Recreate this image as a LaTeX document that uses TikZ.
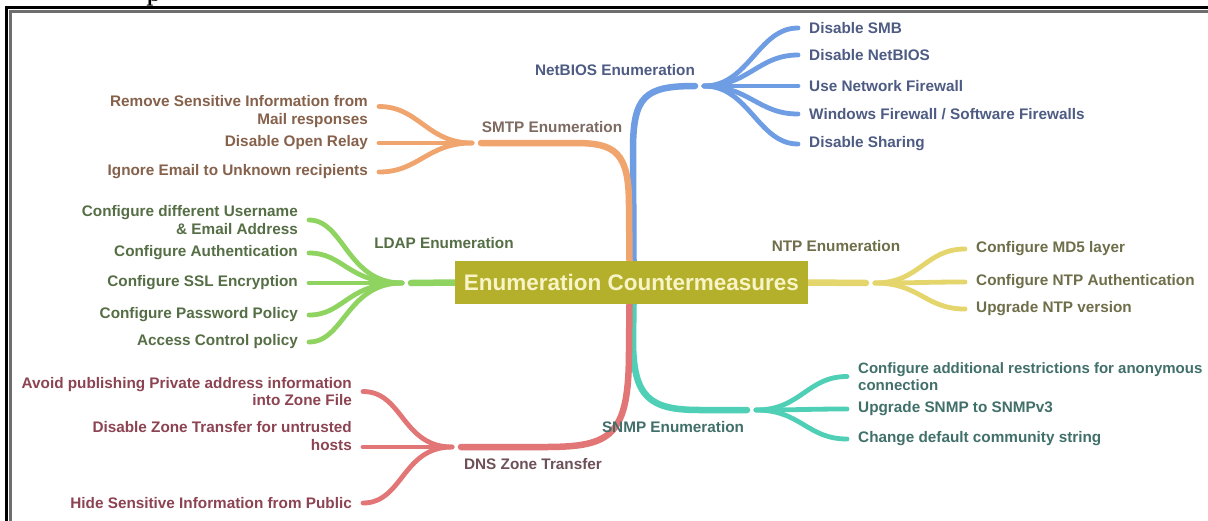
\documentclass[tikz,border=0pt]{standalone}
\usepackage{fontspec}
\newfontfamily\lsans{Liberation Sans}
\usetikzlibrary{backgrounds}
\definecolor{cOr}{HTML}{F0A46E}
\definecolor{tOr}{HTML}{86614B}
\definecolor{lOr}{HTML}{7D6B62}
\definecolor{cBl}{HTML}{6E9DE3}
\definecolor{tBl}{HTML}{4E5C84}
\definecolor{cGr}{HTML}{8FD361}
\definecolor{tGr}{HTML}{556E45}
\definecolor{cYe}{HTML}{E4D56C}
\definecolor{tYe}{HTML}{6F6E4A}
\definecolor{cTe}{HTML}{4FD0B6}
\definecolor{tTe}{HTML}{416F6A}
\definecolor{cRe}{HTML}{E27575}
\definecolor{tRe}{HTML}{8C4352}
\definecolor{lRe}{HTML}{6E5058}
\definecolor{ctrF}{HTML}{B4B02B}
\definecolor{ctrT}{HTML}{F8F4C8}
\definecolor{frameG}{HTML}{6E6E6E}
\begin{document}
\begin{tikzpicture}[x=1pt,y=-1pt,
  lab/.style={font=\lsans\bfseries\fontsize{15.3}{17.5}\selectfont, inner sep=0pt},
  leafL/.style={lab, anchor=east, align=right, inner xsep=11pt, inner ysep=0pt},
  leafR/.style={lab, anchor=west, align=left, inner xsep=11pt, inner ysep=0pt},
  trunk/.style={line width=6.5pt, line cap=round},
  twig/.style={line width=4.8pt, line cap=round}]
\useasboundingbox (0,0) rectangle (1208,520);
\begin{scope}[on background layer]
\fill[white] (0,0) rectangle (1208,520);
\end{scope}
% frame
\draw[line width=3pt, black] (6.5,7.5) rectangle (1230,540);
\draw[line width=3pt, frameG] (10.5,11.5) rectangle (1230,540);
% cut title glyph
\node[font=\bfseries\fontsize{24}{24}\selectfont, anchor=base west, inner sep=0pt] (ptitle) at (146,1) {p};

% central node
\node[fill=ctrF, text=ctrT, minimum width=353pt, minimum height=43pt, inner sep=0pt,
      font=\lsans\bfseries\fontsize{22.5}{22.5}\selectfont] (ctr) at (631.5,282.5) {Enumeration Countermeasures};

% junction coordinates
\coordinate (jN) at (695,86);   \coordinate (jN2) at (704,86);
\coordinate (jS) at (481,143);  \coordinate (jS2) at (472,143);
\coordinate (jL) at (411,283);  \coordinate (jL2) at (402,283);
\coordinate (jT) at (866,283);  \coordinate (jT2) at (875,283);
\coordinate (jP) at (747,410);  \coordinate (jP2) at (756,410);
\coordinate (jD) at (461,447);  \coordinate (jD2) at (452,447);

% branch labels
\node[lab, text=tBl] (lN) at (615,70) {NetBIOS Enumeration};
\node[lab, text=lOr] (lS) at (552,127) {SMTP Enumeration};
\node[lab, text=tGr] (lL) at (444,243) {LDAP Enumeration};
\node[lab, text=tYe] (lT) at (836,246) {NTP Enumeration};
\node[lab, text=tTe] (lP) at (673,427) {SNMP Enumeration};
\node[lab, text=lRe] (lD) at (533,464) {DNS Zone Transfer};

% leaves: NetBIOS
\node[leafR, text=tBl] (b1) at (798,28) {Disable SMB};
\node[leafR, text=tBl] (b2) at (798,55) {Disable NetBIOS};
\node[leafR, text=tBl] (b3) at (798,86) {Use Network Firewall};
\node[leafR, text=tBl] (b4) at (798,114) {Windows Firewall / Software Firewalls};
\node[leafR, text=tBl] (b5) at (798,144) {Disable Sharing};
% leaves: SMTP
\node[leafL, text=tOr] (o1) at (379,111.5) {Remove Sensitive Information from\\Mail responses};
\node[leafL, text=tOr] (o2) at (379,143) {Disable Open Relay};
\node[leafL, text=tOr] (o3) at (379,172) {Ignore Email to Unknown recipients};
% leaves: LDAP
\node[leafL, text=tGr] (g1) at (309,220) {Configure different Username\\\& Email Address};
\node[leafL, text=tGr] (g2) at (309,253) {Configure Authentication};
\node[leafL, text=tGr] (g3) at (309,283) {Configure SSL Encryption};
\node[leafL, text=tGr] (g4) at (309,315) {Configure Password Policy};
\node[leafL, text=tGr] (g5) at (309,342) {Access Control policy};
% leaves: NTP
\node[leafR, text=tYe] (y1) at (965,249) {Configure MD5 layer};
\node[leafR, text=tYe] (y2) at (965,282) {Configure NTP Authentication};
\node[leafR, text=tYe] (y3) at (965,309) {Upgrade NTP version};
% leaves: SNMP
\node[leafR, text=tTe, font=\lsans\bfseries\fontsize{15}{17.5}\selectfont] (s1) at (847,376.5) {Configure additional restrictions for anonymous\\connection};
\node[leafR, text=tTe] (s2) at (847,409) {Upgrade SNMP to SNMPv3};
\node[leafR, text=tTe] (s3) at (847,439) {Change default community string};
% leaves: DNS
\node[leafL, text=tRe] (r1) at (363,391.5) {Avoid publishing Private address information\\into Zone File};
\node[leafL, text=tRe] (r2) at (363,436) {Disable Zone Transfer for untrusted\\hosts};
\node[leafL, text=tRe] (r3) at (363,503) {Hide Sensitive Information from Public};

\begin{scope}[on background layer]
% main branches
\draw[trunk, cBl] ([xshift=2pt]ctr.north) -- (633,150) .. controls (633,96) and (645,86) .. (jN);
\draw[trunk, cOr] ([xshift=-2pt]ctr.north) -- (629,205) .. controls (629,152) and (615,143) .. (575,143) -- (jS);
\draw[trunk, cGr] (ctr.west) -- (jL);
\draw[trunk, cYe] (ctr.east) -- (jT);
\draw[trunk, cTe] ([xshift=2pt]ctr.south) -- (633,340) .. controls (633,398) and (650,410) .. (700,410) -- (jP);
\draw[trunk, cRe] ([xshift=-2pt]ctr.south) -- (629,350) .. controls (629,436) and (612,447) .. (545,447) -- (jD);
% NetBIOS twigs
\foreach \n in {b1,b2,b3,b4,b5}
  \draw[twig, cBl] (jN2) .. controls +(45,0) and +(-40,0) .. (\n.west);
% SMTP twigs
\draw[twig, cOr] (jS2) .. controls +(-45,0) and +(40,0) .. ([yshift=5pt]o1.east);
\draw[twig, cOr] (jS2) -- (o2.east);
\draw[twig, cOr] (jS2) .. controls +(-45,0) and +(40,0) .. (o3.east);
% LDAP twigs
\foreach \n in {g1,g2,g3,g4,g5}
  \draw[twig, cGr] (jL2) .. controls +(-55,0) and +(35,0) .. (\n.east);
% NTP twigs
\foreach \n in {y1,y2,y3}
  \draw[twig, cYe] (jT2) .. controls +(45,0) and +(-40,0) .. (\n.west);
% SNMP twigs
\foreach \n in {s1,s2,s3}
  \draw[twig, cTe] (jP2) .. controls +(45,0) and +(-40,0) .. (\n.west);
% DNS twigs
\draw[twig, cRe] (jD2) .. controls +(-50,0) and +(40,0) .. (r1.east);
\draw[twig, cRe] (jD2) -- ([yshift=-11pt]r2.east);
\draw[twig, cRe] (jD2) .. controls +(-50,0) and +(40,0) .. (r3.east);
\end{scope}
\end{tikzpicture}
\end{document}
